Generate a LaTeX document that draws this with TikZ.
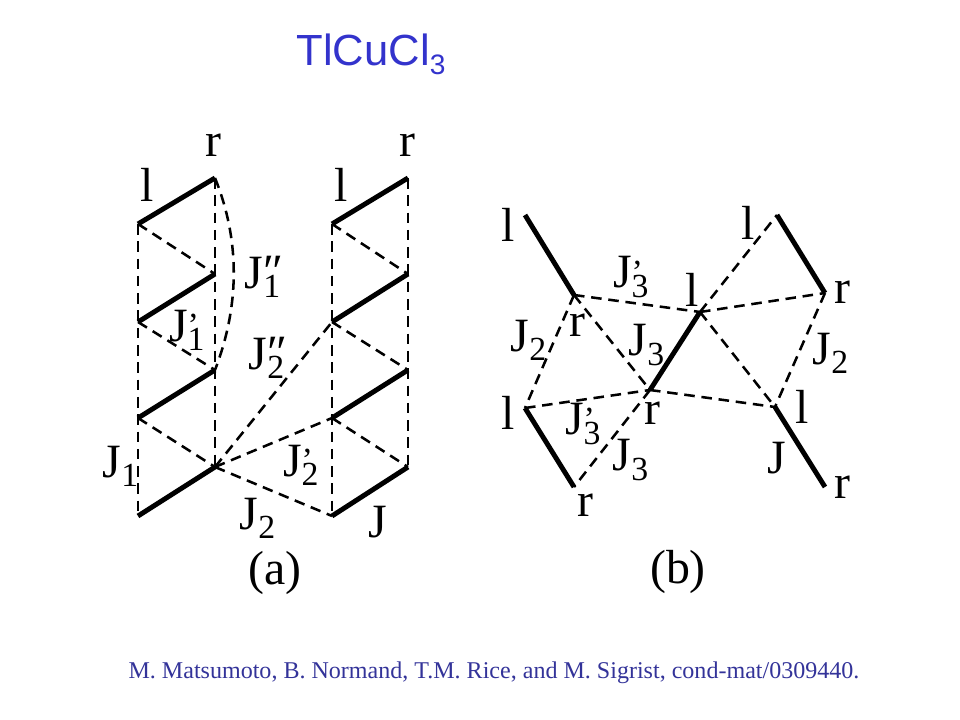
\documentclass[tikz,border=0pt]{standalone}
\usepackage{fontspec}
\setmainfont{Liberation Serif}
\newfontfamily\titlefont{Liberation Sans}
\usepackage{tikz}
\definecolor{slideblue}{RGB}{51,51,204}
\definecolor{citeblue}{RGB}{51,51,153}
\newcommand{\subsz}{\fontsize{24}{24}\selectfont}
\newcommand{\jsym}[2]{J\rlap{\raisebox{-.19em}{\subsz #1}}\raisebox{.1em}{\subsz #2}\hspace{.1em}}
\newcommand{\dpr}{\raisebox{-.12em}{\fontsize{34}{34}\selectfont\symbol{"2033}}}
\tikzset{
  bond/.style={line width=3.5pt},
  exch/.style={line width=1.8pt, dash pattern=on 7.5pt off 4.8pt},
  lbl/.style={font=\fontsize{34}{34}\selectfont, inner sep=0pt},
}
\begin{document}
\begin{tikzpicture}[x=0.025cm, y=-0.025cm]
\useasboundingbox (0,0) rectangle (960,720);
\node[font=\titlefont\fontsize{31}{32}\selectfont, text=slideblue, inner sep=0pt](title) at (371,54){TlCuCl\raisebox{-.2em}{\fontsize{20}{20}\selectfont 3}};

% panel a
\coordinate (al1) at (138,224); \coordinate (ar1) at (215,178);
\coordinate (al2) at (138,322); \coordinate (ar2) at (215,274);
\coordinate (al3) at (138,418); \coordinate (ar3) at (215,370);
\coordinate (al4) at (138,516); \coordinate (ar4) at (215,467);
\coordinate (cl1) at (332,224); \coordinate (cr1) at (408,178);
\coordinate (cl2) at (332,322); \coordinate (cr2) at (408,274);
\coordinate (cl3) at (332,418); \coordinate (cr3) at (408,370);
\coordinate (cl4) at (332,516); \coordinate (cr4) at (408,467);

\draw[bond] (al1) -- (ar1);
\draw[bond] (al2) -- (ar2);
\draw[bond] (al3) -- (ar3);
\draw[bond] (al4) -- (ar4);
\draw[bond] (cl1) -- (cr1);
\draw[bond] (cl2) -- (cr2);
\draw[bond] (cl3) -- (cr3);
\draw[bond] (cl4) -- (cr4);

\draw[exch] (al1) -- (al4);
\draw[exch] (ar1) -- (ar4);
\draw[exch] (cl1) -- (cl4);
\draw[exch] (cr1) -- (cr4);
\draw[exch] (al1) -- (ar2);
\draw[exch] (al2) -- (ar3);
\draw[exch] (al3) -- (ar4);
\draw[exch] (cl1) -- (cr2);
\draw[exch] (cl2) -- (cr3);
\draw[exch] (cl3) -- (cr4);
\draw[exch] (ar1) .. controls (240,240) and (240,305) .. (ar3);
\draw[exch] (ar4) -- (cl2);
\draw[exch] (ar4) -- (cl3);
\draw[exch] (ar4) -- (cl4);

\node[lbl](tal) at (147,185){l};
\node[lbl](tar) at (213,145){r};
\node[lbl](tcl) at (341,185){l};
\node[lbl](tcr) at (407,145){r};
\node[lbl](jonepp) at (264,277){\jsym{1}{\dpr}};
\node[lbl](jonep) at (184,330){\jsym{1}{’}};
\node[lbl](jtwopp) at (268,358){\jsym{2}{\dpr}};
\node[lbl](jtwop) at (298,465){\jsym{2}{’}};
\node[lbl](jone) at (112,466){\jsym{1}{}};
\node[lbl](jtwo) at (249,518){\jsym{2}{}};
\node[lbl](ja) at (378,522){J};
\node[lbl](capa) at (275,573){(a)};

% panel b
\coordinate (bla) at (525,215); \coordinate (bra) at (574,295);
\coordinate (blb) at (700,312); \coordinate (brb) at (650,390);
\coordinate (blc) at (777,215); \coordinate (brc) at (825,293);
\coordinate (bld) at (525,408); \coordinate (brd) at (574,487);
\coordinate (ble) at (775,407); \coordinate (bre) at (825,487);

\draw[bond] (bla) -- (bra);
\draw[bond] (blb) -- (brb);
\draw[bond] (blc) -- (brc);
\draw[bond] (bld) -- (brd);
\draw[bond] (ble) -- (bre);

\draw[exch] (bra) -- (blb);
\draw[exch] (blb) -- (brc);
\draw[exch] (bra) -- (brb);
\draw[exch] (blb) -- (ble);
\draw[exch] (bra) -- (bld);
\draw[exch] (brc) -- (ble);
\draw[exch] (bld) -- (brb);
\draw[exch] (brb) -- (ble);
\draw[exch] (brb) -- (brd);
\draw[exch] (blb) -- (blc);

\node[lbl](tbla) at (508,225){l};
\node[lbl](tblc) at (748,223){l};
\node[lbl](tblb) at (692,290){l};
\node[lbl](tbrc) at (842,292){r};
\node[lbl](tbra) at (577,325){r};
\node[lbl](tbld) at (508,413){l};
\node[lbl](tbrb) at (652,413){r};
\node[lbl](tble) at (802,407){l};
\node[lbl](tbre) at (842,487){r};
\node[lbl](tbrd) at (585,505){r};
\node[lbl](jthreepa) at (628,277){\jsym{3}{’}};
\node[lbl](jtwol) at (520,340){\jsym{2}{}};
\node[lbl](jthreea) at (638,345){\jsym{3}{}};
\node[lbl](jtwor) at (822,353){\jsym{2}{}};
\node[lbl](jthreepb) at (580,424){\jsym{3}{’}};
\node[lbl](jthreeb) at (622,460){\jsym{3}{}};
\node[lbl](jb) at (777,458){J};
\node[lbl](capb) at (678,572){(b)};

\node[font=\fontsize{17.1}{18}\selectfont, text=citeblue, inner sep=0pt](cite) at (494,673){M. Matsumoto, B. Normand, T.M. Rice, and M. Sigrist, cond-mat/0309440.};
\end{tikzpicture}
\end{document}
